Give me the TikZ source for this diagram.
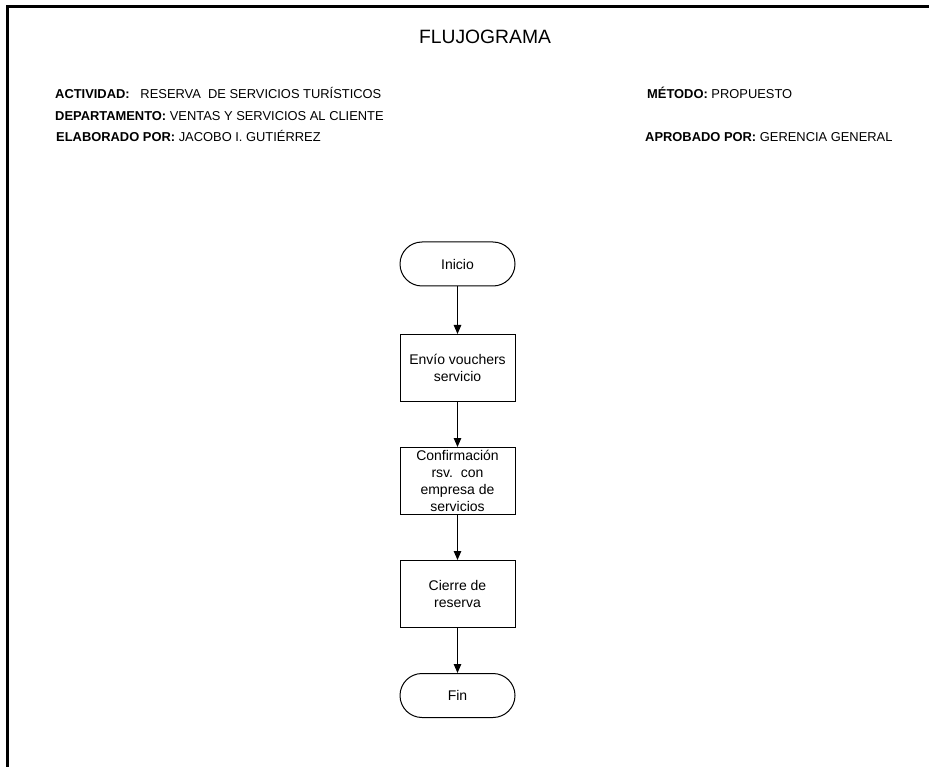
\documentclass[tikz,border=0pt]{standalone}
\usepackage{fontspec}
\setmainfont{Liberation Sans}
\usetikzlibrary{arrows.meta}
\begin{document}
\begin{tikzpicture}[x=1pt,y=-1pt,
  terminal/.style={draw, line width=1pt, minimum width=115pt, minimum height=44pt, rounded corners=22pt, font=\fontsize{14}{17}\selectfont, inner sep=0pt},
  process/.style={draw, line width=1pt, minimum width=115pt, minimum height=67pt, align=center, font=\fontsize{14}{17}\selectfont, inner sep=0pt},
  flow/.style={line width=1pt, -{Triangle[length=9pt,width=7.5pt]}},
  head/.style={anchor=base west, inner sep=0pt, font=\fontsize{12.9}{15}\selectfont},
  frame/.style={line width=2.5pt}
]
\useasboundingbox (0,0) rectangle (929,767);
\draw[frame] (929,6.5) -- (7.5,6.5) -- (7.5,767);
\node[font=\fontsize{19.3}{22}\selectfont] (title) at (485,37) {FLUJOGRAMA};
\node[head] (act) at (55,99) {\textbf{ACTIVIDAD:}\ \ \ RESERVA\ \ DE SERVICIOS TURÍSTICOS};
\node[head] (dep) at (55,120.5) {\textbf{DEPARTAMENTO:} VENTAS Y SERVICIOS AL CLIENTE};
\node[head] (ela) at (56,142) {\textbf{ELABORADO POR:} JACOBO I. GUTIÉRREZ};
\node[head] (met) at (647,99) {\textbf{MÉTODO:} PROPUESTO};
\node[head] (apr) at (645,142) {\textbf{APROBADO POR:} GERENCIA GENERAL};

\node[terminal] (ini) at (457.5,264) {Inicio};
\node[process] (p1) at (457.5,368) {Envío vouchers\\servicio};
\node[process] (p2) at (457.5,481) {Confirmación\\rsv.\ \ con\\empresa de\\servicios};
\node[process] (p3) at (457.5,594) {Cierre de\\reserva};
\node[terminal] (fin) at (457.5,695.5) {Fin};

\draw[flow] (ini) -- (p1);
\draw[flow] (p1) -- (p2);
\draw[flow] (p2) -- (p3);
\draw[flow] (p3) -- (fin);
\end{tikzpicture}
\end{document}
